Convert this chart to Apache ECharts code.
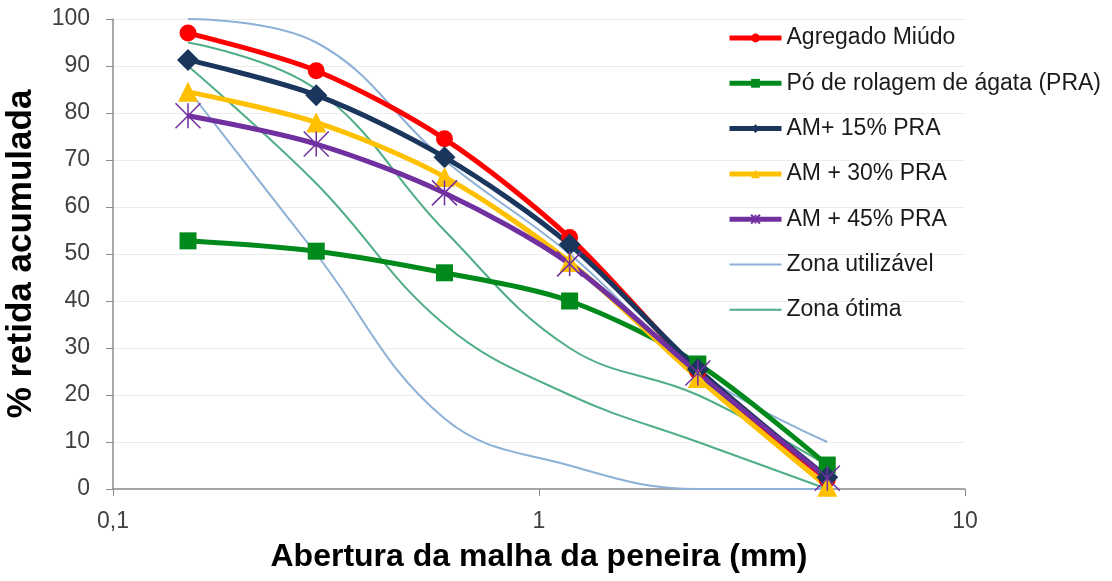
<!DOCTYPE html>
<html>
<head>
<meta charset="utf-8">
<script src="https://cdn.jsdelivr.net/npm/echarts@6/dist/echarts.min.js"></script>
<style>html,body{margin:0;padding:0;background:#fff}#c{width:1112px;height:581px}</style>
</head>
<body>
<div id="c"></div>
<script>
const sieves = [0.15, 0.3, 0.6, 1.18, 2.36, 4.75];
const agregadoMiudo = [97, 89, 74.5, 53.5, 25, 2];
const poRolagem = [52.8, 50.6, 46, 40, 26.6, 5.1];
const am15 = [91.3, 83.8, 70.6, 52, 25.5, 2.5];
const am30 = [84.5, 78, 66.4, 48.3, 23.6, 0.5];
const am45 = [79.4, 73.4, 63, 47.9, 24.7, 2.3];
const utilLower = [85, 50, 15, 5, 0, 0];
const utilUpper = [100, 95, 70, 50, 25, 10];
const otimaLower = [90, 65, 35, 20, 10, 0];
const otimaUpper = [95, 85, 55, 30, 20, 5];
const yTicks = [0, 10, 20, 30, 40, 50, 60, 70, 80, 90, 100];
const legendNames = ['Agregado Miúdo', 'Pó de rolagem de ágata (PRA)', 'AM+ 15% PRA', 'AM + 30% PRA', 'AM + 45% PRA', 'Zona utilizável', 'Zona ótima'];

const pts = arr => sieves.map((x, i) => [x, arr[i]]);
const asterisk = 'path://M0,0L20,20M20,0L0,20M10,0L10,20';

function mainSeries(name, arr, color, symbol, size, extra) {
  return Object.assign({
    name, type: 'line', data: pts(arr), smooth: 0.3,
    symbol, symbolSize: size,
    lineStyle: { color, width: 5 },
    itemStyle: { color, borderColor: color, borderWidth: 0 },
    emphasis: { disabled: true }
  }, extra || {});
}
function zoneSeries(name, arr, color) {
  return {
    name, type: 'line', data: pts(arr), smooth: 0.4, symbol: 'none',
    lineStyle: { color, width: 2 }, itemStyle: { color },
    emphasis: { disabled: true }
  };
}
const blue = '#8cb0d6', teal = '#4fae86';
const chart = echarts.init(document.getElementById('c'));
chart.setOption({
  animation: false,
  backgroundColor: '#fff',
  grid: { left: 113, right: 147, top: 19, bottom: 92, containLabel: false, outerBoundsMode: 'none' },
  xAxis: {
    type: 'log', logBase: 10, min: 0.1, max: 10,
    name: 'Abertura da malha da peneira (mm)', nameLocation: 'middle', nameGap: 52,
    nameTextStyle: { fontFamily: 'Liberation Sans', fontWeight: 'bold', fontSize: 32, color: '#000' },
    axisLine: { lineStyle: { color: '#8c8c8c', width: 1.5 } },
    axisTick: { show: true, length: 7, lineStyle: { color: '#8c8c8c' } },
    minorTick: { show: false },
    splitLine: { show: false },
    axisLabel: { fontFamily: 'Liberation Sans', fontSize: 23, color: '#404040', margin: 21,
      formatter: v => String(Math.round(v * 1000) / 1000).replace('.', ',') }
  },
  yAxis: {
    type: 'value', min: 0, max: 100, interval: 10,
    name: '% retida acumulada', nameLocation: 'middle', nameGap: 74,
    nameTextStyle: { fontFamily: 'Liberation Sans', fontWeight: 'bold', fontSize: 35, color: '#000' },
    axisLine: { show: true, lineStyle: { color: '#8c8c8c', width: 1.5 } },
    axisTick: { show: true, length: 7, lineStyle: { color: '#8c8c8c' } },
    splitLine: { lineStyle: { color: '#ececec' } },
    axisLabel: { fontFamily: 'Liberation Sans', fontSize: 23, color: '#404040', margin: 23,
      formatter: v => yTicks.includes(v) ? String(v) : '' }
  },
  legend: {
    orient: 'vertical', left: 722, top: 21, itemWidth: 52, itemHeight: 11, itemGap: 21.3,
    textStyle: { fontFamily: 'Liberation Sans', fontSize: 23, color: '#1a1a1a', lineHeight: 24 },
    data: legendNames.map((n, i) => i < 5
      ? { name: n, lineStyle: { width: 5 } }
      : { name: n, lineStyle: { width: 2 }, itemStyle: { opacity: 0 } })
  },
  series: [
    zoneSeries('Zona utilizável', utilLower, blue),
    zoneSeries('Zona utilizável', utilUpper, blue),
    zoneSeries('Zona ótima', otimaLower, teal),
    zoneSeries('Zona ótima', otimaUpper, teal),
    mainSeries('Agregado Miúdo', agregadoMiudo, '#ff0000', 'circle', 17),
    mainSeries('Pó de rolagem de ágata (PRA)', poRolagem, '#008a1c', 'rect', 17),
    mainSeries('AM+ 15% PRA', am15, '#1b365d', 'diamond', 22),
    mainSeries('AM + 30% PRA', am30, '#ffc000', 'triangle', 20),
    mainSeries('AM + 45% PRA', am45, '#7030a0', asterisk, 25,
      { itemStyle: { color: 'rgba(0,0,0,0)', borderColor: '#7030a0', borderWidth: 1.5 } })
  ]
});
</script>
</body>
</html>
